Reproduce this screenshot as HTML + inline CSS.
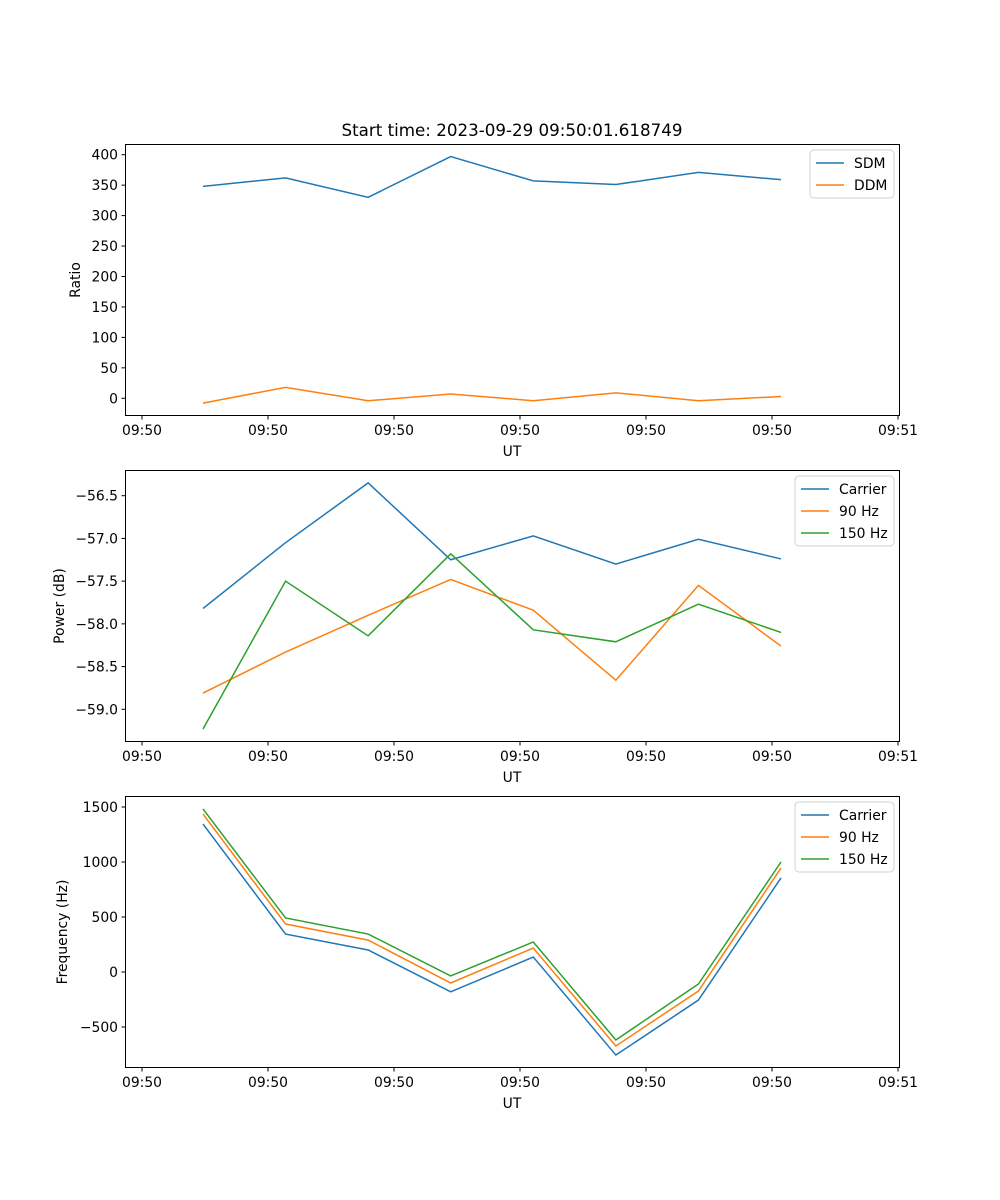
<!DOCTYPE html>
<html><head><meta charset="utf-8"><style>
body{margin:0;background:#fff}
svg{display:block;font-family:"DejaVu Sans","Liberation Sans",sans-serif}
</style></head><body>
<svg id="fig" width="1000" height="1200" viewBox="0 0 1000 1200" xmlns="http://www.w3.org/2000/svg">
<rect width="1000" height="1200" fill="#fff"/>
<text x="512" y="136" font-size="16.7" text-anchor="middle">Start time: 2023-09-29 09:50:01.618749</text>
</svg>
<script>
const xTickLabels = ["09:50","09:50","09:50","09:50","09:50","09:50","09:51"];
const pointIndex = [0,1,2,3,4,5,6,7];
const sdm = [348,362,330,397,357,351,371,359];
const ddm = [-8,18,-4,7,-4,9,-4,3];
const powCarrier = [-57.82,-57.05,-56.35,-57.25,-56.97,-57.30,-57.01,-57.24];
const pow90 = [-58.81,-58.33,-57.90,-57.48,-57.84,-58.66,-57.55,-58.26];
const pow150 = [-59.23,-57.50,-58.14,-57.18,-58.07,-58.21,-57.77,-58.10];
const freqCarrier = [1345,345,200,-180,136,-755,-255,855];
const freq90 = [1436,436,290,-100,218,-673,-173,945];
const freq150 = [1482,491,345,-36,273,-618,-109,1000];
const ratioTicks = [0,50,100,150,200,250,300,350,400];
const powTicks = [-59.0,-58.5,-58.0,-57.5,-57.0,-56.5];
const freqTicks = [-500,0,500,1000,1500];

const NS="http://www.w3.org/2000/svg";
const svg=document.getElementById('fig');
function el(tag,attrs,parent){const e=document.createElementNS(NS,tag);for(const k in attrs)e.setAttribute(k,attrs[k]);(parent||svg).appendChild(e);return e;}
const L=125,R=900;
function xData(i){return 203+i*82.57;}
function xTick(i){return 142+i*126;}
const C=['#1f77b4','#ff7f0e','#2ca02c'];

function panel(name,top,yFn,ticks,fmt,series,labels,ylab,ylabX,legX){
  const g=el('g',{});
  
  
  const bottom=top+272;
  ticks.forEach(v=>{
    const y=yFn(v);
    el('line',{x1:L-3.5,x2:L,y1:y,y2:y,stroke:'#000','stroke-width':1},g);
    const t=el('text',{x:L-7,y:y+5,'font-size':13.9,'text-anchor':'end'},g);
    t.textContent=fmt(v);
    
    
  });
  xTickLabels.forEach((s,i)=>{
    const x=xTick(i);
    el('line',{x1:x,x2:x,y1:bottom,y2:bottom+3.5,stroke:'#000','stroke-width':1},g);
    const t=el('text',{x:x,y:bottom+19,'font-size':13.9,'text-anchor':'middle'},g);
    t.textContent=s;
    
    
  });
  series.forEach((s,k)=>{
    const p=el('polyline',{points:pointIndex.map(i=>xData(i)+','+yFn(s[i])).join(' '),fill:'none',stroke:C[k],'stroke-width':1.5},g);
    
    
  });
  el('rect',{x:L+0.5,y:top+0.5,width:R-L-1,height:271,fill:'none',stroke:'#000','stroke-width':1},g);
  const xl=el('text',{x:512,y:bottom+40,'font-size':13.9,'text-anchor':'middle'},g);
  xl.textContent='UT';
  
  
  const yl=el('text',{x:ylabX,y:top+136,'font-size':13.9,'text-anchor':'middle',transform:`rotate(-90 ${ylabX} ${top+136})`},g);
  yl.textContent=ylab;
  
  
  const lg=el('g',{},g);
  
  
  const h=labels.length*22+4;
  el('rect',{x:legX,y:top+6,width:894-legX,height:h,rx:4,fill:'#fff',stroke:'#d0d0d0','stroke-width':1},lg);
  labels.forEach((lab,k)=>{
    const y=top+19+k*22;
    el('line',{x1:legX+6,x2:legX+34,y1:y,y2:y,stroke:C[k],'stroke-width':1.5},lg);
    const t=el('text',{x:legX+44,y:y+5,'font-size':13.9},lg);
    t.textContent=lab;
    
    
  });
}
panel('ratio-panel',144,v=>398.3-v*0.609,ratioTicks,v=>String(v),[sdm,ddm],['SDM','DDM'],'Ratio',80,810);
panel('power-panel',470,v=>709.3-(v+59.0)*85.44,powTicks,v=>v.toFixed(1).replace('-','\u2212'),[powCarrier,pow90,pow150],['Carrier','90 Hz','150 Hz'],'Power (dB)',64,795);
panel('frequency-panel',796,v=>972-v*0.11,freqTicks,v=>String(v).replace('-','\u2212'),[freqCarrier,freq90,freq150],['Carrier','90 Hz','150 Hz'],'Frequency (Hz)',67,795);
</script>
</body></html>
